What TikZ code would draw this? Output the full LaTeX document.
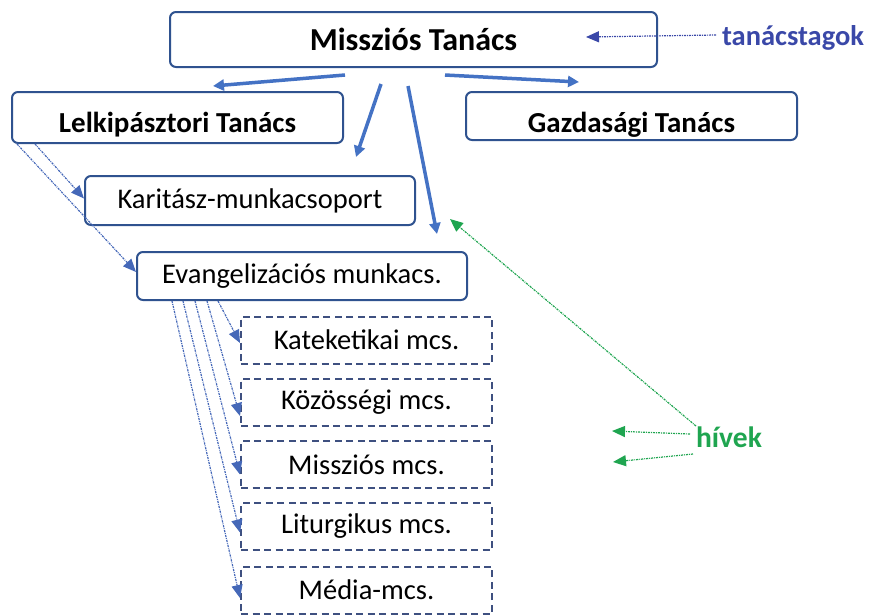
\documentclass[tikz,border=0pt]{standalone}
\usepackage{fontspec}
\setmainfont{Carlito}
\usetikzlibrary{arrows.meta}
\definecolor{obl}{HTML}{4472C4}
\definecolor{dobl}{HTML}{4568B8}
\definecolor{bord}{HTML}{2F528F}
\definecolor{dbord}{HTML}{3E5080}
\definecolor{tcol}{HTML}{3A48A8}
\definecolor{gcol}{HTML}{1FA550}
\tikzset{
  solidbox/.style={draw=bord, line width=2pt, rounded corners=6pt, fill=white, inner sep=0pt},
  dashbox/.style={draw=dbord, line width=2pt, dash pattern=on 7pt off 4.5pt, fill=white, inner sep=0pt},
  bigarrow/.style={draw=obl, line width=3.5pt, -{Triangle[length=11pt,width=11pt]}},
  dotarrow/.style={draw=dobl, line width=1.2pt, dash pattern=on 2.2pt off 1pt on 0.8pt off 1pt, -{Triangle[length=13pt,width=11pt]}},
  greenarrow/.style={draw=gcol, line width=1.2pt, dash pattern=on 2.2pt off 1pt on 0.8pt off 1pt, -{Triangle[length=13pt,width=11pt]}},
  bfont/.style={font=\fontsize{32}{36}\selectfont\bfseries},
  sfont/.style={font=\fontsize{29}{33}\selectfont\bfseries},
  rfont/.style={font=\fontsize{28.5}{32}\selectfont},
}
\begin{document}
\begin{tikzpicture}[x=1pt,y=-1pt]
\useasboundingbox (0,0) rectangle (872,614);
% boxes
\node[solidbox, bfont, minimum width=487pt, minimum height=55pt] (ms) at (413.5,39.5) {Missziós Tanács};
\node[solidbox, sfont, minimum width=331pt, minimum height=51pt] (lt) at (177.5,117.5) {\raisebox{-14.5pt}[0pt][0pt]{Lelkipásztori Tanács}};
\node[solidbox, sfont, minimum width=331pt, minimum height=48pt] (gt) at (631.5,116) {\raisebox{-16pt}[0pt][0pt]{Gazdasági Tanács}};
\node[solidbox, rfont, minimum width=330pt, minimum height=49pt] (km) at (250,200.5) {Karitász-munkacsoport};
\node[solidbox, rfont, minimum width=330pt, minimum height=48pt] (em) at (302,276) {Evangelizációs munkacs.};
\node[dashbox, rfont, minimum width=251pt, minimum height=47pt] (d1) at (366.5,340) {Kateketikai mcs.};
\node[dashbox, rfont, minimum width=251pt, minimum height=47pt] (d2) at (366.5,402) {Közösségi mcs.};
\node[dashbox, rfont, minimum width=251pt, minimum height=47pt] (d3) at (366.5,464.5) {Missziós mcs.};
\node[dashbox, rfont, minimum width=251pt, minimum height=47pt] (d4) at (366.5,526.5) {Liturgikus mcs.};
\node[dashbox, rfont, minimum width=251pt, minimum height=47pt] (d5) at (366.5,590) {Média-mcs.};
% labels
\node[text=tcol, font=\fontsize{28.5}{32}\selectfont\bfseries, inner sep=0pt] (tt) at (793,38) {tanácstagok};
\node[text=gcol, font=\fontsize{29.5}{33}\selectfont\bfseries, inner sep=0pt] (hv) at (729,437) {hívek};
% coordinates
\coordinate (a1s) at (345,75); \coordinate (a1e) at (213,86);
\coordinate (a2s) at (381,84); \coordinate (a2e) at (356,157);
\coordinate (a3s) at (408,86); \coordinate (a3e) at (437,234);
\coordinate (a4s) at (445,75); \coordinate (a4e) at (579,82);
\coordinate (tts) at (716,35); \coordinate (tte) at (586,37);
\coordinate (g1s) at (696,426); \coordinate (g1e) at (450,219);
\coordinate (g2s) at (690,434); \coordinate (g2e) at (612,431);
\coordinate (g3s) at (693,454); \coordinate (g3e) at (613,462);
% big arrows
\draw[bigarrow] (a1s) -- (a1e);
\draw[bigarrow] (a2s) -- (a2e);
\draw[bigarrow] (a3s) -- (a3e);
\draw[bigarrow] (a4s) -- (a4e);
% tanácstagok arrow
\draw[dotarrow, draw=tcol] (tts) -- (tte);
% dotted arrows from Lelkipásztori
\draw[dotarrow] ([xshift=-142.5pt]lt.south) -- ([yshift=2pt]km.west);
\draw[dotarrow] ([xshift=-160.5pt]lt.south) -- ([yshift=4pt]em.west);
% dotted arrows from Evangelizációs
\draw[dotarrow] ([xshift=-84pt]em.south) -- ([yshift=-3pt]d1.west);
\draw[dotarrow] ([xshift=-95pt]em.south) -- ([yshift=-14pt]d2.west);
\draw[dotarrow] ([xshift=-107pt]em.south) -- ([yshift=-10pt]d3.west);
\draw[dotarrow] ([xshift=-119pt]em.south) -- ([yshift=-6pt]d4.west);
\draw[dotarrow] ([xshift=-130pt]em.south) -- ([yshift=-8pt]d5.west);
% green arrows
\draw[greenarrow] (g1s) -- (g1e);
\draw[greenarrow] (g2s) -- (g2e);
\draw[greenarrow] (g3s) -- (g3e);
\end{tikzpicture}
\end{document}
